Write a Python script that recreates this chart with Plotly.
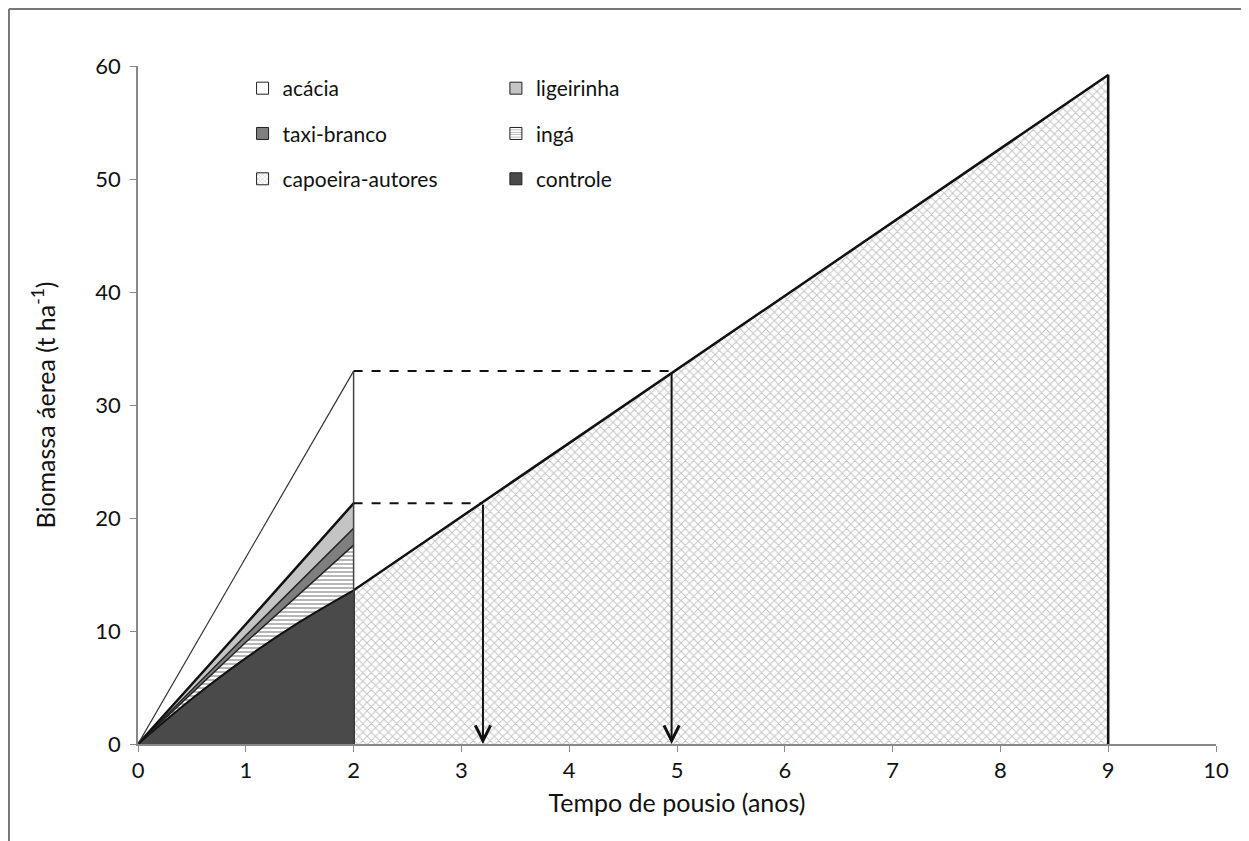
import plotly.graph_objects as go

# ---- data ----
x_spp = [0, 1, 2]                      # years, stacked species layers
x_ctrl = [0, 0.5, 1, 1.5, 2]
controle = [0, 4.0, 7.6, 10.8, 13.6]   # top of controle layer (curved)
inga_top = [0, 9.0, 17.6]              # cumulative top of ingá layer
taxi_top = [0, 9.6, 19.1]              # cumulative top of taxi-branco layer
ligeirinha_top = [0, 10.6, 21.3]       # cumulative top of ligeirinha layer
acacia_top = [0, 16.5, 33.0]           # cumulative top of acácia layer

capo_x = [2, 9]                        # capoeira-autores line
capo_y = [13.6, 59.2]

# equivalence markers (dashed lines and arrows)
eq_y = [21.3, 33.0]
eq_x = [3.2, 4.95]

x_ticks = list(range(0, 11))
y_ticks = list(range(0, 61, 10))

FONT = "Lato"

fig = go.Figure()

# capoeira polygon (x from 2 to 9)
fig.add_trace(go.Scatter(
    x=[capo_x[0]] + capo_x + [capo_x[-1]],
    y=[0] + capo_y + [0],
    mode="lines", fill="toself", fillcolor="white",
    fillpattern=dict(shape="x", size=6, solidity=0.3, fgcolor="#8a8a8a", bgcolor="white"),
    line=dict(color="#111", width=2.5), showlegend=False, hoverinfo="skip"))

# controle
fig.add_trace(go.Scatter(
    x=x_ctrl, y=controle, mode="lines", fill="tozeroy", fillcolor="#4a4a4a",
    line=dict(color="#111", width=2, shape="spline", smoothing=1), showlegend=False, hoverinfo="skip"))
# ingá
fig.add_trace(go.Scatter(
    x=x_spp, y=inga_top, mode="lines", fill="tonexty", fillcolor="white",
    fillpattern=dict(shape="-", size=4, solidity=0.4, fgcolor="#4a4a4a", bgcolor="white"),
    line=dict(color="#222", width=1.5), showlegend=False, hoverinfo="skip"))
# taxi-branco
fig.add_trace(go.Scatter(
    x=x_spp, y=taxi_top, mode="lines", fill="tonexty", fillcolor="#7f7f7f",
    line=dict(color="#222", width=1.5), showlegend=False, hoverinfo="skip"))
# ligeirinha
fig.add_trace(go.Scatter(
    x=x_spp, y=ligeirinha_top, mode="lines", fill="tonexty", fillcolor="#c4c4c4",
    line=dict(color="#111", width=2.5), showlegend=False, hoverinfo="skip"))
# acácia
fig.add_trace(go.Scatter(
    x=x_spp, y=acacia_top, mode="lines", fill="tonexty", fillcolor="rgba(255,255,255,0)",
    line=dict(color="#333", width=1.2), showlegend=False, hoverinfo="skip"))

# vertical at x=2
fig.add_trace(go.Scatter(
    x=[x_spp[-1], x_spp[-1]], y=[0, acacia_top[-1]], mode="lines",
    line=dict(color="#444", width=1.5), showlegend=False, hoverinfo="skip"))

# dashed horizontal lines + arrows
for yy, xx in zip(eq_y, eq_x):
    fig.add_trace(go.Scatter(
        x=[x_spp[-1], xx], y=[yy, yy], mode="lines",
        line=dict(color="#111", width=2, dash="dash"), showlegend=False, hoverinfo="skip"))
    fig.add_annotation(x=xx, y=0, ax=xx, ay=yy, xref="x", yref="y", axref="x", ayref="y",
                       showarrow=True, arrowhead=5, arrowsize=1.5, arrowwidth=2,
                       arrowcolor="#111", standoff=0, text="")

# legend entries (dummy bars give square symbols)
legend_items = [
    ("acácia", dict(color="white"), "legend"),
    ("taxi-branco", dict(color="#7f7f7f"), "legend"),
    ("capoeira-autores", dict(color="white", pattern=dict(shape="x", size=4, solidity=0.3,
                                                          fgcolor="#8a8a8a", bgcolor="white")), "legend"),
    ("ligeirinha", dict(color="#c4c4c4"), "legend2"),
    ("ingá", dict(color="white", pattern=dict(shape="-", size=3, solidity=0.35,
                                             fgcolor="#555", bgcolor="white")), "legend2"),
    ("controle", dict(color="#4a4a4a"), "legend2"),
]
for name, mk, lg in legend_items:
    mk = dict(mk)
    mk["line"] = dict(color="#222", width=1)
    fig.add_trace(go.Bar(x=[None], y=[None], name=name, marker=mk, legend=lg,
                         legendgroup=name, showlegend=True))

# outer border (left and top)
fig.add_shape(type="line", xref="paper", yref="paper", x0=-0.1197, x1=1.05, y0=1.084, y1=1.084,
              line=dict(color="#777", width=2))
fig.add_shape(type="line", xref="paper", yref="paper", x0=-0.1197, x1=-0.1197, y0=1.084, y1=-0.17,
              line=dict(color="#777", width=2))

legend_common = dict(font=dict(family=FONT, size=21, color="#111"), bgcolor="rgba(0,0,0,0)",
                     tracegroupgap=15, xanchor="left", yanchor="top", itemwidth=30)

fig.update_layout(
    width=1241, height=833,
    margin=dict(l=130, r=33, t=58, b=97),
    paper_bgcolor="white", plot_bgcolor="white",
    font=dict(family=FONT, size=20, color="#111"),
    legend=dict(x=0.097, y=0.997, **legend_common),
    legend2=dict(x=0.332, y=0.997, **legend_common),
    xaxis=dict(range=[0, 10], tickvals=x_ticks, ticks="outside", ticklen=6, tickcolor="#888",
               showline=True, linecolor="#888", linewidth=1.5, showgrid=False, zeroline=False,
               tickfont=dict(family=FONT, size=22, color="#111"),
               title=dict(text="Tempo de pousio (anos)", font=dict(family=FONT, size=25, color="#111"),
                          standoff=12)),
    yaxis=dict(range=[0, 60], tickvals=y_ticks, ticks="outside", ticklen=6, tickcolor="#888",
               showline=True, linecolor="#888", linewidth=1.5, showgrid=False, zeroline=False,
               ticklabelstandoff=5,
               tickfont=dict(family=FONT, size=22, color="#111"),
               title=dict(text="Biomassa áerea (t ha<sup>-1</sup>)", font=dict(family=FONT, size=25, color="#111"),
                          standoff=33)),
    showlegend=True,
)

fig.write_html("out.html")
